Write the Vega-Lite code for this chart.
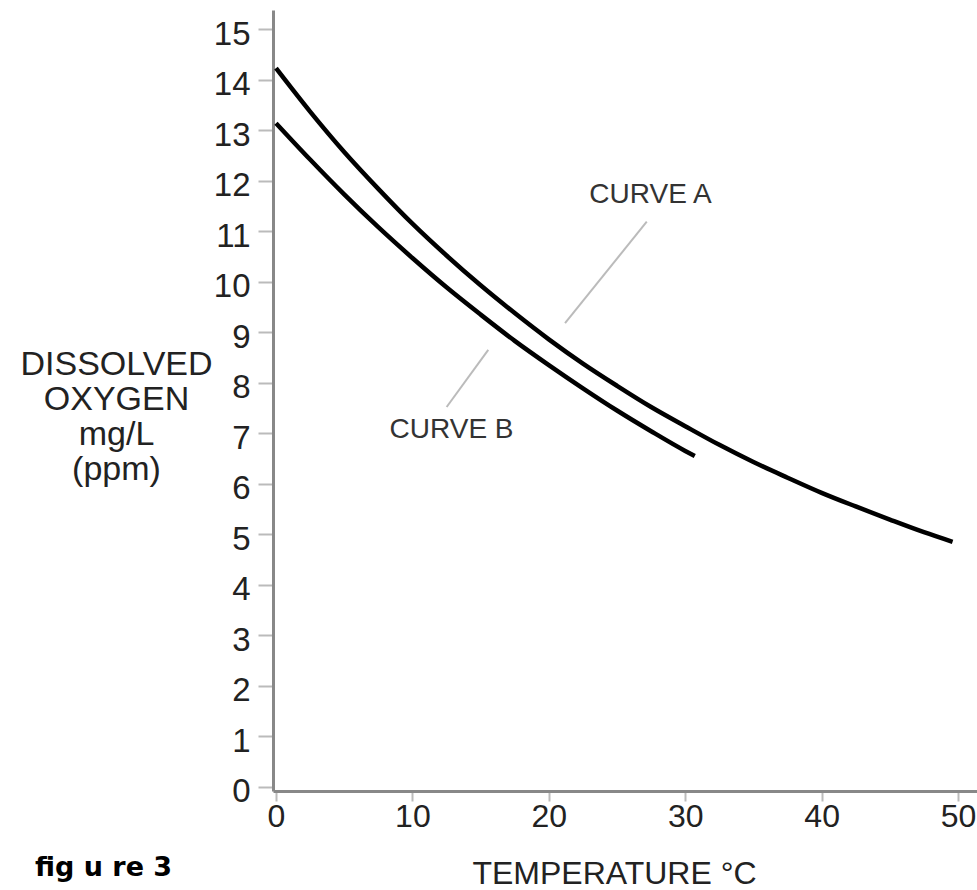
{
  "$schema": "https://vega.github.io/schema/vega-lite/v6.json",
  "width": 704,
  "height": 781,
  "autosize": {"type": "none"},
  "padding": {"left": 273, "top": 10, "right": 0, "bottom": 99},
  "background": "white",
  "config": {"view": {"stroke": null}, "font": "Liberation Sans"},
  "datasets": {
    "curves": [
      {"curve": "A", "T": 0, "DO": 14.23},
      {"curve": "A", "T": 2.5, "DO": 13.37},
      {"curve": "A", "T": 5, "DO": 12.57},
      {"curve": "A", "T": 7.5, "DO": 11.84},
      {"curve": "A", "T": 10, "DO": 11.15},
      {"curve": "A", "T": 12.5, "DO": 10.52},
      {"curve": "A", "T": 15, "DO": 9.93},
      {"curve": "A", "T": 17.5, "DO": 9.38},
      {"curve": "A", "T": 20, "DO": 8.86},
      {"curve": "A", "T": 22.5, "DO": 8.38},
      {"curve": "A", "T": 25, "DO": 7.94},
      {"curve": "A", "T": 27.5, "DO": 7.52},
      {"curve": "A", "T": 30, "DO": 7.14},
      {"curve": "A", "T": 32.5, "DO": 6.77},
      {"curve": "A", "T": 35, "DO": 6.43},
      {"curve": "A", "T": 37.5, "DO": 6.12},
      {"curve": "A", "T": 40, "DO": 5.82},
      {"curve": "A", "T": 42.5, "DO": 5.55},
      {"curve": "A", "T": 45, "DO": 5.29},
      {"curve": "A", "T": 47.5, "DO": 5.04},
      {"curve": "A", "T": 49.6, "DO": 4.85},
      {"curve": "B", "T": 0, "DO": 13.14},
      {"curve": "B", "T": 2.5, "DO": 12.42},
      {"curve": "B", "T": 5, "DO": 11.73},
      {"curve": "B", "T": 7.5, "DO": 11.08},
      {"curve": "B", "T": 10, "DO": 10.47},
      {"curve": "B", "T": 12.5, "DO": 9.89},
      {"curve": "B", "T": 15, "DO": 9.35},
      {"curve": "B", "T": 17.5, "DO": 8.83},
      {"curve": "B", "T": 20, "DO": 8.35},
      {"curve": "B", "T": 22.5, "DO": 7.89},
      {"curve": "B", "T": 25, "DO": 7.45},
      {"curve": "B", "T": 27.5, "DO": 7.04},
      {"curve": "B", "T": 30, "DO": 6.65},
      {"curve": "B", "T": 30.7, "DO": 6.55}
    ],
    "leaders": [
      {"T": 27.18, "DO": 11.19, "T2": 21.19, "DO2": 9.18},
      {"T": 15.56, "DO": 8.65, "T2": 12.51, "DO2": 7.52}
    ],
    "labels": [
      {"T": 27.46, "DO": 11.56, "label": "CURVE A"},
      {"T": 12.87, "DO": 6.9, "label": "CURVE B"}
    ],
    "caption": [
      {"T": -17.67, "DO": -1.77, "label": "fig u re 3"}
    ]
  },
  "encoding": {
    "x": {
      "field": "T",
      "type": "quantitative",
      "scale": {"domain": [-0.22, 51.39], "nice": false, "zero": false},
      "axis": {
        "values": [0, 10, 20, 30, 40, 50],
        "grid": false,
        "title": "TEMPERATURE °C",
        "titleFontSize": 32,
        "titleFontWeight": "normal",
        "titleColor": "#222",
        "titleAlign": "center",
        "titleBaseline": "alphabetic",
        "titleX": 341,
        "titleY": 92,
        "labelFontSize": 32,
        "labelColor": "#222",
        "labelPadding": 0,
        "labelFlush": false,
        "labelOverlap": false,
        "tickSize": 10,
        "tickWidth": 2,
        "tickColor": "#bbbbbb",
        "domainColor": "#888888",
        "domainWidth": 3
      }
    },
    "y": {
      "field": "DO",
      "type": "quantitative",
      "scale": {"domain": [-0.085, 15.382], "nice": false, "zero": false},
      "axis": {
        "values": [0, 1, 2, 3, 4, 5, 6, 7, 8, 9, 10, 11, 12, 13, 14, 15],
        "grid": false,
        "title": ["DISSOLVED", "OXYGEN", "mg/L", "(ppm)"],
        "titleAngle": 0,
        "titleFontSize": 34,
        "titleFontWeight": "normal",
        "titleColor": "#222",
        "titleAlign": "center",
        "titleBaseline": "alphabetic",
        "titleLineHeight": 35,
        "titleX": -157,
        "titleY": 364,
        "labelFontSize": 33,
        "labelColor": "#222",
        "labelPadding": 8,
        "labelOffset": 5,
        "labelFlush": false,
        "labelOverlap": false,
        "tickSize": 15,
        "tickWidth": 2,
        "tickColor": "#bbbbbb",
        "domainColor": "#888888",
        "domainWidth": 3
      }
    }
  },
  "layer": [
    {
      "data": {"name": "curves"},
      "mark": {"type": "line", "color": "black", "strokeWidth": 4.5, "interpolate": "monotone"},
      "encoding": {"detail": {"field": "curve"}}
    },
    {
      "data": {"name": "leaders"},
      "mark": {"type": "rule", "color": "#bbbbbb", "strokeWidth": 2},
      "encoding": {"x2": {"field": "T2"}, "y2": {"field": "DO2"}}
    },
    {
      "data": {"name": "labels"},
      "mark": {"type": "text", "fontSize": 28, "color": "#333333", "align": "center", "baseline": "alphabetic"},
      "encoding": {"text": {"field": "label"}}
    },
    {
      "data": {"name": "caption"},
      "mark": {"type": "text", "font": "DejaVu Sans", "fontWeight": "bold", "fontSize": 27, "color": "black", "align": "left", "baseline": "alphabetic"},
      "encoding": {"text": {"field": "label"}}
    }
  ]
}
